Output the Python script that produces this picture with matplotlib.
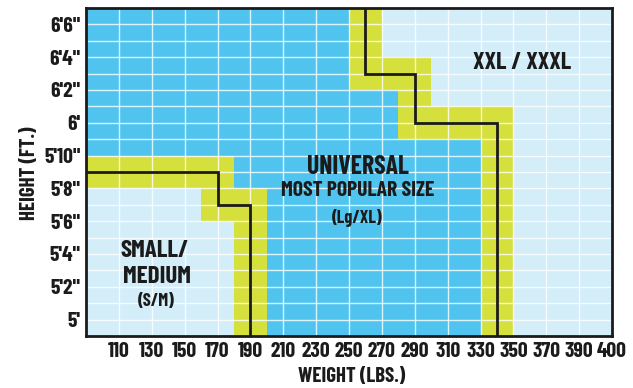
import numpy as np
import matplotlib
matplotlib.use("Agg")
import matplotlib.pyplot as plt
from matplotlib.colors import ListedColormap
from matplotlib.path import Path

# size boundaries: weight (lbs) / height (inches)
sm_line_lbs = [90, 170, 170, 190, 190]
sm_line_in = [69, 69, 67, 67, 59]
xxl_line_lbs = [260, 260, 290, 290, 340, 340]
xxl_line_in = [79, 75, 75, 72, 72, 59]

weight_range = [90, 410]
height_range = [59, 79]
cell_lbs = 10
cell_in = 1

weight_ticks = [110, 130, 150, 170, 190, 210, 230, 250, 270, 290, 310, 330, 350, 370, 390, 410]
weight_labels = ["110", "130", "150", "170", "190", "210", "230", "250", "270",
                 "290", "310", "330", "350", "370", "390", "400"]
height_ticks = [60, 62, 64, 66, 68, 70, 72, 74, 76, 78]
height_labels = ["5'", "5'2\"", "5'4\"", "5'6\"", "5'8\"", "5'10\"", "6'", "6'2\"", "6'4\"", "6'6\""]

colors = ["#D3EDF9", "#50C4EF", "#D3EDF9", "#D6E03C"]  # S/M, universal, XXL, overlap
ink = "#1b1b1b"
font = ["Barlow Condensed", "Archivo Narrow", "DejaVu Sans"]


def touches(xs, ys, x0, x1, y0, y1):
    for i in range(len(xs) - 1):
        ax0, ax1 = sorted((xs[i], xs[i + 1]))
        ay0, ay1 = sorted((ys[i], ys[i + 1]))
        if max(ax0, x0) <= min(ax1, x1) and max(ay0, y0) <= min(ay1, y1):
            return True
    return False


x_edges = np.arange(weight_range[0], weight_range[1] + 1, cell_lbs)
y_edges = np.arange(height_range[0], height_range[1] + 1, cell_in)

sm_path = Path(list(zip(sm_line_lbs, sm_line_in)) + [(weight_range[0], height_range[0])])
xxl_path = Path(list(zip(xxl_line_lbs, xxl_line_in)) +
                [(weight_range[1], height_range[0]), (weight_range[1], height_range[1])])

codes = np.ones((len(y_edges) - 1, len(x_edges) - 1))
for j in range(len(y_edges) - 1):
    for i in range(len(x_edges) - 1):
        x0, x1, y0, y1 = x_edges[i], x_edges[i + 1], y_edges[j], y_edges[j + 1]
        c = ((x0 + x1) / 2, (y0 + y1) / 2)
        if sm_path.contains_point(c):
            codes[j, i] = 0
        elif xxl_path.contains_point(c):
            codes[j, i] = 2
        if touches(sm_line_lbs, sm_line_in, x0, x1, y0, y1) or \
                touches(xxl_line_lbs, xxl_line_in, x0, x1, y0, y1):
            codes[j, i] = 3

fig = plt.figure(figsize=(6.33, 3.88), dpi=100)
ax = fig.add_axes([86 / 633, 52 / 388, 526 / 633, 328 / 388])

ax.pcolormesh(x_edges, y_edges, codes, cmap=ListedColormap(colors), vmin=-0.5, vmax=3.5)
ax.plot(sm_line_lbs, sm_line_in, color=ink, lw=2, solid_joinstyle="miter")
ax.plot(xxl_line_lbs, xxl_line_in, color=ink, lw=2, solid_joinstyle="miter")

ax.set_xlim(weight_range)
ax.set_ylim(height_range)
ax.set_xticks(weight_ticks)
ax.set_xticklabels(weight_labels)
ax.set_yticks(height_ticks)
ax.set_yticklabels(height_labels)
ax.set_yticks(np.arange(height_range[0], height_range[1]), minor=True)
ax.grid(axis="x", which="major", color="white", lw=1.0, alpha=0.8)
ax.grid(axis="y", which="both", color="white", lw=1.0, alpha=0.8)
ax.tick_params(which="both", length=0)
ax.tick_params(axis="x", pad=4)
ax.tick_params(axis="y", pad=4)
for lab in ax.get_xticklabels() + ax.get_yticklabels():
    lab.set_family(font)
    lab.set_weight("bold")
    lab.set_fontsize(15.5)
    lab.set_color(ink)
for s in ax.spines.values():
    s.set_linewidth(2)
    s.set_color(ink)

fig.text(352 / 633, 1 - 376 / 388, "WEIGHT (LBS.)", ha="center", va="center",
         family=font, weight="bold", fontsize=15, color=ink)
fig.text(30 / 633, 1 - 173 / 388, "HEIGHT (FT.)", ha="center", va="center", rotation=90,
         family=font, weight="bold", fontsize=15, color=ink)

ax.text(355, 75.65, "XXL / XXXL", ha="center", va="center", family=font,
        weight="bold", fontsize=17.5, color=ink)
ax.text(255.5, 69.3, "UNIVERSAL", ha="center", va="center", family=font,
        weight="bold", fontsize=18.5, color=ink)
ax.text(255, 67.85, "MOST POPULAR SIZE", ha="center", va="center", family=font,
        weight="bold", fontsize=15.5, color=ink)
ax.text(255, 66.2, "(Lg/XL)", ha="center", va="center", family=font,
        weight="bold", fontsize=13, color=ink)
ax.text(132, 64.2, "SMALL/", ha="center", va="center", family=font,
        weight="bold", fontsize=18, color=ink)
ax.text(133, 62.6, "MEDIUM", ha="center", va="center", family=font,
        weight="bold", fontsize=18, color=ink)
ax.text(133, 61.1, "(S/M)", ha="center", va="center", family=font,
        weight="bold", fontsize=13, color=ink)

fig.savefig("out.png", dpi=100)
